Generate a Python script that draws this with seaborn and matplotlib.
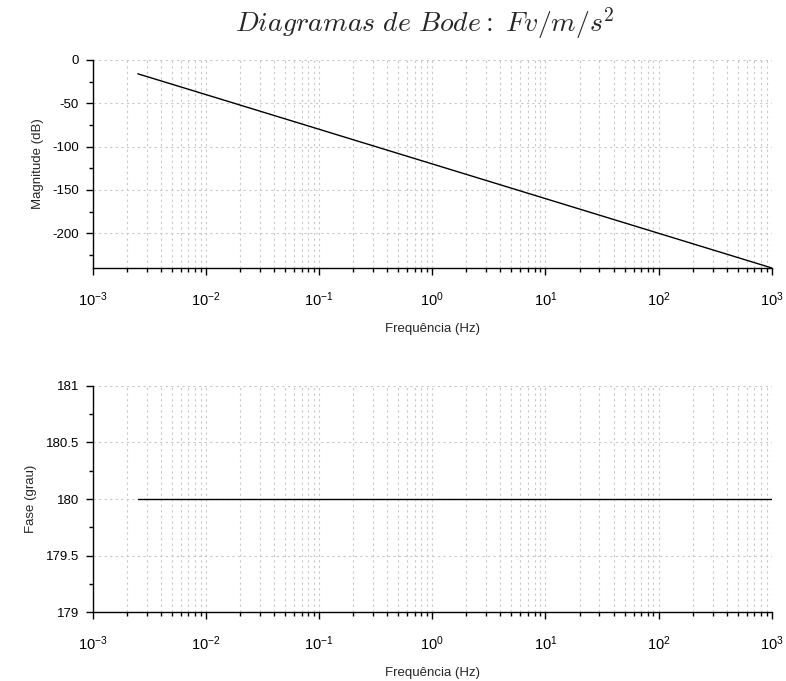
import numpy as np
import matplotlib
matplotlib.use("Agg")
import matplotlib.pyplot as plt
import matplotlib.ticker as mticker
import seaborn as sns

# valores
freq = [0.0025, 0.01, 0.1, 1.0, 10.0, 100.0, 1000.0]
magnitude = [-16, -40, -80, -120, -160, -200, -240]
fase = [180, 180, 180, 180, 180, 180, 180]

sns.set_style("white")
plt.rcParams["font.family"] = ["Liberation Sans", "DejaVu Sans"]
plt.rcParams["mathtext.fontset"] = "custom"
plt.rcParams["mathtext.rm"] = "Liberation Sans"
plt.rcParams["axes.unicode_minus"] = False

fig = plt.figure(figsize=(7.86, 6.81), dpi=100)
ax1 = fig.add_axes([0.118, 0.6065, 0.864, 0.3055])
ax2 = fig.add_axes([0.118, 0.1013, 0.864, 0.3319])

grid_kw = dict(color="#c8c8c8", linestyle=(0, (2, 3)), linewidth=0.8)


def expo(v, pos):
    return r"$\mathregular{10^{%d}}$" % round(np.log10(v))


for ax, y, ylim, major, minor, ylabel in [
    (ax1, magnitude, (-240, 0), 50, 25, "Magnitude (dB)"),
    (ax2, fase, (179, 181), 0.5, 0.25, "Fase (grau)"),
]:
    sns.lineplot(x=freq, y=y, ax=ax, color="black", linewidth=1.0)
    ax.set_xscale("log")
    ax.set_xlim(1e-3, 1e3)
    ax.set_ylim(*ylim)
    ax.xaxis.set_major_locator(mticker.FixedLocator([1e-3, 1e-2, 1e-1, 1, 10, 100, 1000]))
    ax.xaxis.set_major_formatter(mticker.FuncFormatter(expo))
    ax.xaxis.set_minor_locator(mticker.LogLocator(base=10, subs=np.arange(2, 10), numticks=10))
    ax.xaxis.set_minor_formatter(mticker.NullFormatter())
    ax.yaxis.set_major_locator(mticker.MultipleLocator(major))
    ax.yaxis.set_minor_locator(mticker.MultipleLocator(minor))
    ax.yaxis.set_major_formatter(mticker.FormatStrFormatter("%g"))
    ax.grid(True, which="major", axis="both", **grid_kw)
    ax.grid(True, which="minor", axis="x", **grid_kw)
    ax.set_axisbelow(True)
    for s in ["top", "right"]:
        ax.spines[s].set_visible(False)
    for s in ["left", "bottom"]:
        ax.spines[s].set_linewidth(1.0)
        ax.spines[s].set_color("black")
    ax.tick_params(bottom=True, left=True, top=False, right=False)
    ax.tick_params(which="major", direction="out", length=5, width=1, colors="black")
    ax.tick_params(which="minor", direction="out", length=3, width=1, colors="black",
                   bottom=True, left=True)
    ax.tick_params(axis="y", which="major", labelsize=9.5, pad=5)
    ax.tick_params(axis="x", which="major", labelsize=10.5, pad=11)
    ax.set_ylabel(ylabel, fontsize=9.5, labelpad=6)
    ax.set_xlabel("Frequência (Hz)", fontsize=9.5, labelpad=10)

fig.text(0.54, 0.966, r"$Diagramas\ de\ Bode:\ Fv/m/s^2$", ha="center", va="center",
         fontsize=20, math_fontfamily="cm")

fig.savefig("out.png", dpi=100)
